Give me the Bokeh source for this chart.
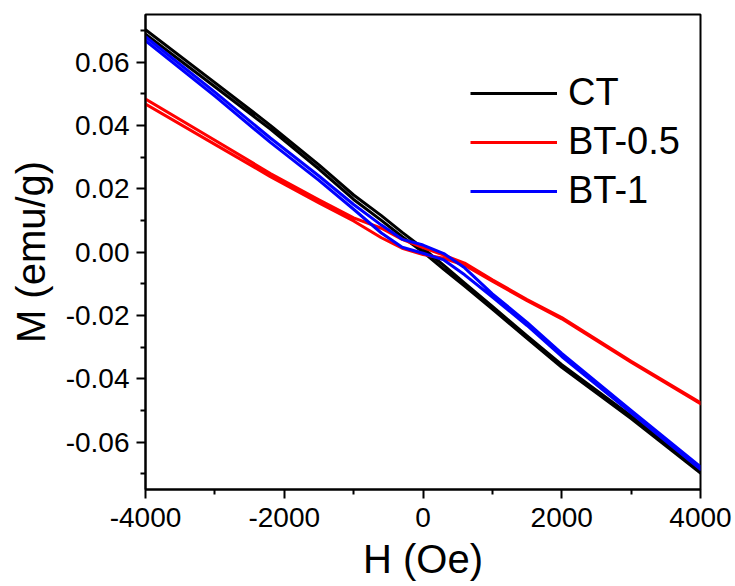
from bokeh.plotting import figure
from bokeh.models import Range1d, FixedTicker, PrintfTickFormatter, Legend, LegendItem
from bokeh.embed import file_html
from bokeh.resources import INLINE

# Field values (Oe)
H = [-4000, -3000, -2200, -1500, -1000, -600, -300, 0, 300, 600, 1000, 1500, 2000, 3000, 4000]

# Magnetization branches (emu/g), ascending and descending field sweeps
CT_asc = [0.0688, 0.0522, 0.0388, 0.0262, 0.0166, 0.0100, 0.0048, 0.0000, -0.0055, -0.0108, -0.0180, -0.0273, -0.0364, -0.0526, -0.0698]
CT_desc = [0.0702, 0.0535, 0.0400, 0.0275, 0.0180, 0.0115, 0.0062, 0.0012, -0.0042, -0.0098, -0.0172, -0.0265, -0.0356, -0.0518, -0.0693]

BT05_asc = [0.0467, 0.0340, 0.0238, 0.0155, 0.0098, 0.0045, 0.0012, -0.0008, -0.0020, -0.0042, -0.0092, -0.0154, -0.0211, -0.0348, -0.0479]
BT05_desc = [0.0483, 0.0353, 0.0248, 0.0165, 0.0108, 0.0075, 0.0040, 0.0014, -0.0010, -0.0035, -0.0088, -0.0150, -0.0207, -0.0345, -0.0476]

BT1_asc = [0.0667, 0.0492, 0.0346, 0.0226, 0.0135, 0.0060, 0.0015, -0.0004, -0.0025, -0.0072, -0.0142, -0.0232, -0.0330, -0.0508, -0.0686]
BT1_desc = [0.0680, 0.0505, 0.0360, 0.0240, 0.0150, 0.0085, 0.0040, 0.0022, -0.0005, -0.0050, -0.0132, -0.0222, -0.0320, -0.0500, -0.0678]

series_names = ["CT", "BT-0.5", "BT-1"]
series_colors = ["#000000", "#ff0000", "#0000ff"]

x_ticks = [-4000, -2000, 0, 2000, 4000]
x_minor = [-3000, -1000, 1000, 3000]
y_ticks = [-0.06, -0.04, -0.02, 0.0, 0.02, 0.04, 0.06]
y_minor = [-0.07, -0.05, -0.03, -0.01, 0.01, 0.03, 0.05, 0.07]

x_title = "H (Oe)"
y_title = "M (emu/g)"

FONT = "Liberation Sans"

p = figure(width=735, height=586, output_backend="svg", toolbar_location=None,
           x_range=Range1d(-4000, 4000), y_range=Range1d(-0.075, 0.075),
           min_border_left=145, min_border_right=35, min_border_top=14, min_border_bottom=97)
p.grid.visible = False
p.background_fill_color = "white"
p.border_fill_color = "white"
p.outline_line_color = "black"
p.outline_line_width = 2

for ax in (p.xaxis[0], p.yaxis[0]):
    ax.axis_line_width = 2
    ax.major_tick_line_width = 2
    ax.minor_tick_line_width = 2
    ax.major_tick_in = 0
    ax.major_tick_out = 9
    ax.minor_tick_in = 0
    ax.minor_tick_out = 5
    ax.major_label_text_font = FONT
    ax.major_label_text_font_size = "28px"
    ax.major_label_text_color = "black"
    ax.axis_label_text_font = FONT
    ax.axis_label_text_font_size = "40px"
    ax.axis_label_text_font_style = "normal"
    ax.axis_label_text_color = "black"

p.xaxis[0].ticker = FixedTicker(ticks=x_ticks, minor_ticks=x_minor)
p.yaxis[0].ticker = FixedTicker(ticks=y_ticks, minor_ticks=y_minor)
p.xaxis[0].formatter = PrintfTickFormatter(format="%d")
p.yaxis[0].formatter = PrintfTickFormatter(format="%.2f")
p.xaxis[0].major_label_standoff = 9
p.yaxis[0].major_label_standoff = 7
p.xaxis[0].axis_label = x_title
p.yaxis[0].axis_label = y_title
p.xaxis[0].axis_label_standoff = 7
p.yaxis[0].axis_label_standoff = 10

branches = [(CT_asc, CT_desc), (BT05_asc, BT05_desc), (BT1_asc, BT1_desc)]
items = []
for name, color, (asc, desc) in zip(series_names, series_colors, branches):
    xs = H + H[::-1]
    ys = asc + desc[::-1]
    r = p.line(xs, ys, line_color=color, line_width=3, line_join="round")
    items.append(LegendItem(label=name, renderers=[r]))

legend = Legend(items=items, location=(325, 277), border_line_alpha=0,
                background_fill_alpha=0, label_text_font=FONT, label_text_color="black",
                label_text_font_size="38px", glyph_width=87, glyph_height=30,
                label_height=30, spacing=6, padding=0, margin=0, label_standoff=11)
p.add_layout(legend)

open("out.html", "w").write(file_html(p, INLINE))
